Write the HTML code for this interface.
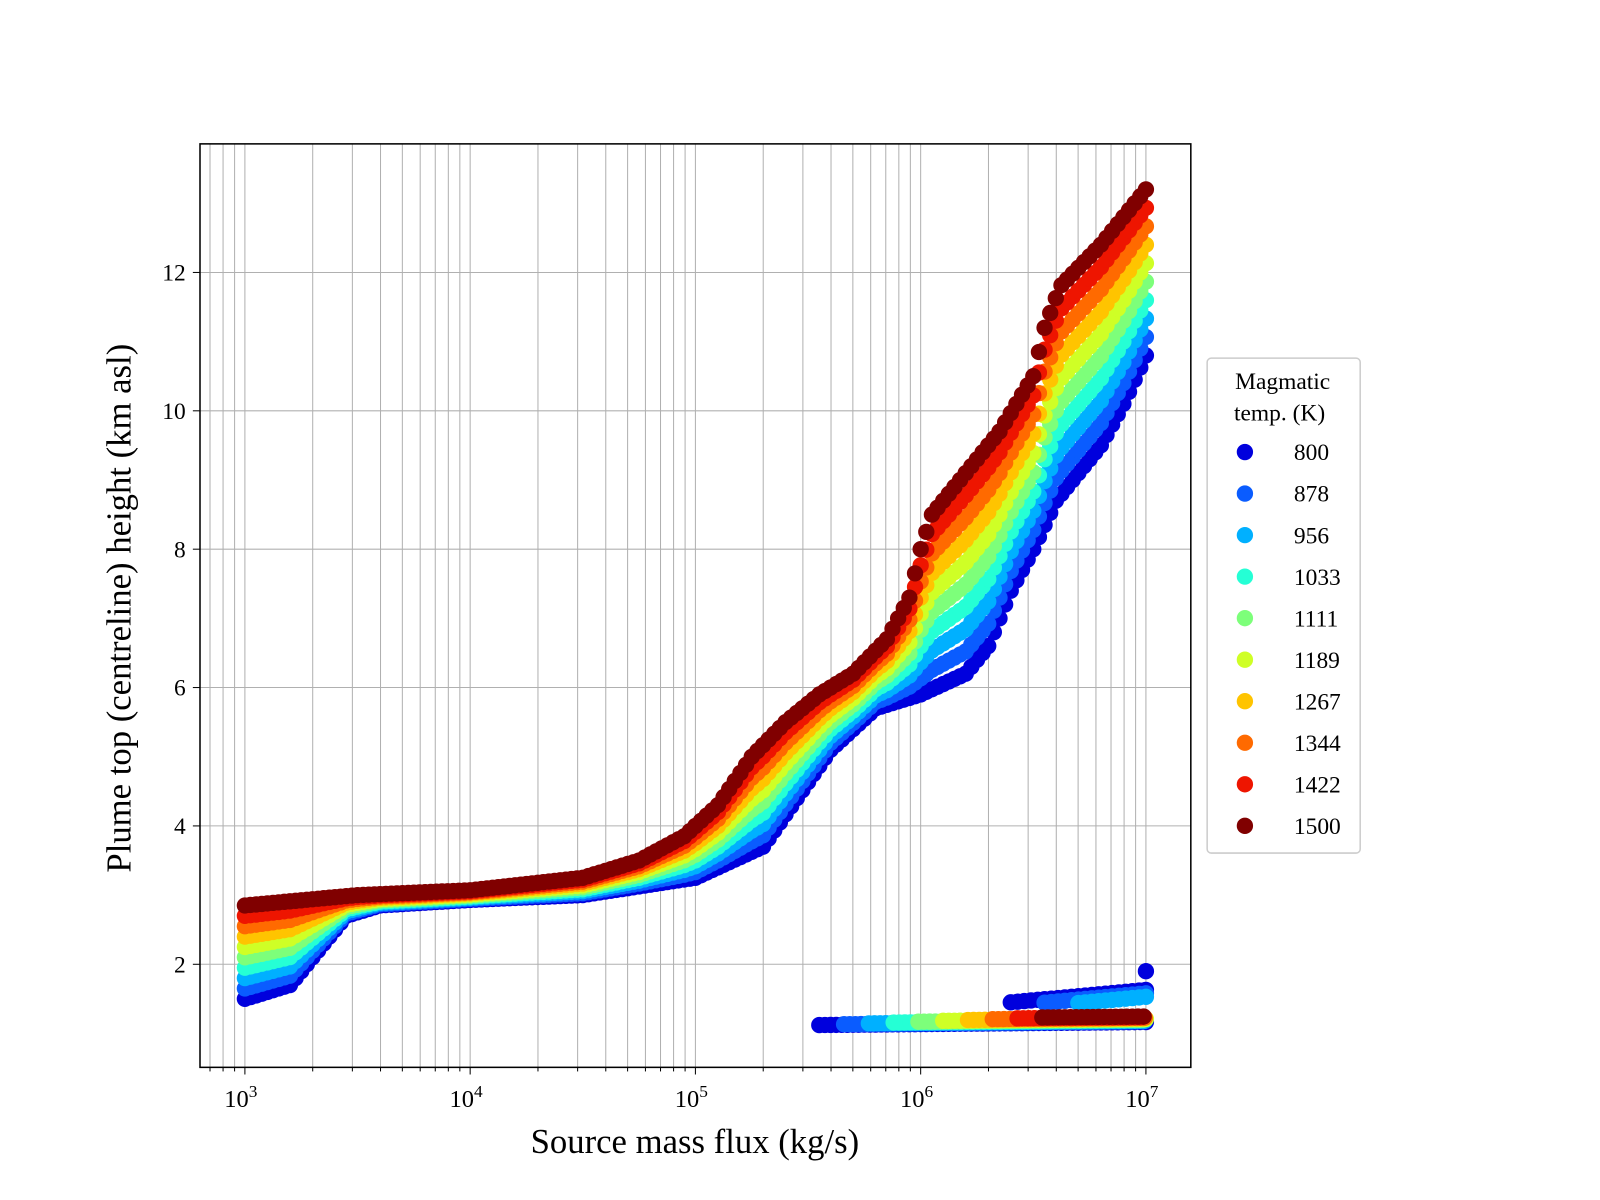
<!DOCTYPE html>
<html><head><meta charset="utf-8"><style>
html,body{margin:0;padding:0;background:#fff;}
svg{display:block;font-family:"Liberation Serif","DejaVu Serif",serif;}
</style></head><body>
<svg id="s" width="1600" height="1200" viewBox="0 0 1568 1176" xmlns="http://www.w3.org/2000/svg">
<rect width="1568" height="1176" fill="#fff"/>
<g id="grid"></g>
<g id="data"></g>
<rect x="196" y="141" width="971" height="905" fill="none" stroke="#000" stroke-width="1.5"/>
<g id="ticks"></g>
<text x="681" y="1130" font-size="34" text-anchor="middle">Source mass flux (kg/s)</text>
<text transform="translate(128,596) rotate(-90)" font-size="34" text-anchor="middle">Plume top (centreline) height (km asl)</text>
<g id="legend"></g>
</svg>
<script>
const NS="http://www.w3.org/2000/svg";
function el(p,t,a,txt){const e=document.createElementNS(NS,t);for(const k in a)e.setAttribute(k,a[k]);if(txt!==undefined)e.textContent=txt;p.appendChild(e);return e;}
const X=l=>240+(l-3)*220.75, Y=v=>945-(v-2)*67.8;
const g=document.getElementById('grid'),tk=document.getElementById('ticks');
for(let d=2;d<=7;d++)for(let m=1;m<10;m++){const l=d+Math.log10(m);const x=X(l);if(x<197||x>1166)continue;
el(g,'line',{x1:x,x2:x,y1:141,y2:1046,stroke:'#b0b0b0','stroke-width':1});
el(tk,'line',{x1:x,x2:x,y1:1046,y2:1046+(m==1?7:4),stroke:'#000','stroke-width':1});
if(m==1){const t=el(tk,'text',{x:x-4,y:1085,'font-size':24,'text-anchor':'middle'},'10');el(t,'tspan',{dy:-10,'font-size':17},String(d));}}
for(let v=2;v<=12;v+=2){const y=Y(v);el(g,'line',{x1:196,x2:1167,y1:y,y2:y,stroke:'#b0b0b0','stroke-width':1});
el(tk,'line',{x1:189,x2:196,y1:y,y2:y,stroke:'#000'});el(tk,'text',{x:182,y:y+8,'font-size':23,'text-anchor':'end'},String(v));}
const R=[[3,2.85],[3.5,3.0],[4,3.07],[4.5,3.25],[4.75,3.5],[4.95,3.85],[5.1,4.3],[5.25,5.0],[5.4,5.5],[5.55,5.9],[5.7,6.2],[5.85,6.7],[5.95,7.3],[6,8.0],[6.05,8.5],[6.2,9.1],[6.35,9.7],[6.5,10.5],[6.55,11.2],[6.62,11.8],[6.8,12.4],[7,13.2]];
const B=[[3,1.5],[3.2,1.7],[3.3,2.1],[3.45,2.7],[3.6,2.85],[4,2.93],[4.5,3.0],[5,3.25],[5.3,3.7],[5.45,4.4],[5.6,5.1],[5.8,5.7],[6,5.9],[6.2,6.2],[6.3,6.6],[6.4,7.4],[6.5,8.0],[6.6,8.7],[6.8,9.5],[6.9,10.1],[7,10.8]];
function interp(P,l){for(let i=0;i<P.length-1;i++)if(l>=P[i][0]&&l<=P[i+1][0]){const t=(l-P[i][0])/(P[i+1][0]-P[i][0]);return P[i][1]+t*(P[i+1][1]-P[i][1]);}return P[P.length-1][1];}
const cols=['#0000dd','#0a5cff','#00b0ff','#25ffd5','#7dff7a','#cfff26','#ffc400','#ff6a00','#ee1500','#800000'];
const labs=['800','878','956','1033','1111','1189','1267','1344','1422','1500'];
const d=document.getElementById('data');
cols.forEach((c,i)=>{const f=i/9;
for(let l=3;l<=7.0001;l+=0.025){const y=interp(B,l)+(interp(R,l)-interp(B,l))*f;el(d,'circle',{cx:X(l),cy:Y(y),r:8,fill:c});}
for(let l=5.55+i*0.11;l<=7.0001;l+=0.025){const y=1.12+0.08*f+0.03*(l-5.5);el(d,'circle',{cx:X(l),cy:Y(y),r:8,fill:c});}
if(i<3){for(let l=6.4+i*0.15;l<=7.0001;l+=0.03){el(d,'circle',{cx:X(l),cy:Y(1.45+(l-6.4)*0.3-i*0.05),r:8,fill:c});}}
});
el(d,'circle',{cx:X(7),cy:Y(1.9),r:8,fill:cols[0]});
const lg=document.getElementById('legend');
el(lg,'rect',{x:1183,y:351,width:150,height:485,rx:4,fill:'#fff',stroke:'#ccc','stroke-width':1.5});
el(lg,'text',{x:1257,y:381,'font-size':23,'text-anchor':'middle'},'Magmatic');
el(lg,'text',{x:1254,y:412,'font-size':23,'text-anchor':'middle'},'temp. (K)');
labs.forEach((t,i)=>{const y=443+i*40.7;el(lg,'circle',{cx:1220,cy:y,r:8,fill:cols[i]});el(lg,'text',{x:1268,y:y+8,'font-size':23},t);});
</script>
</body></html>
